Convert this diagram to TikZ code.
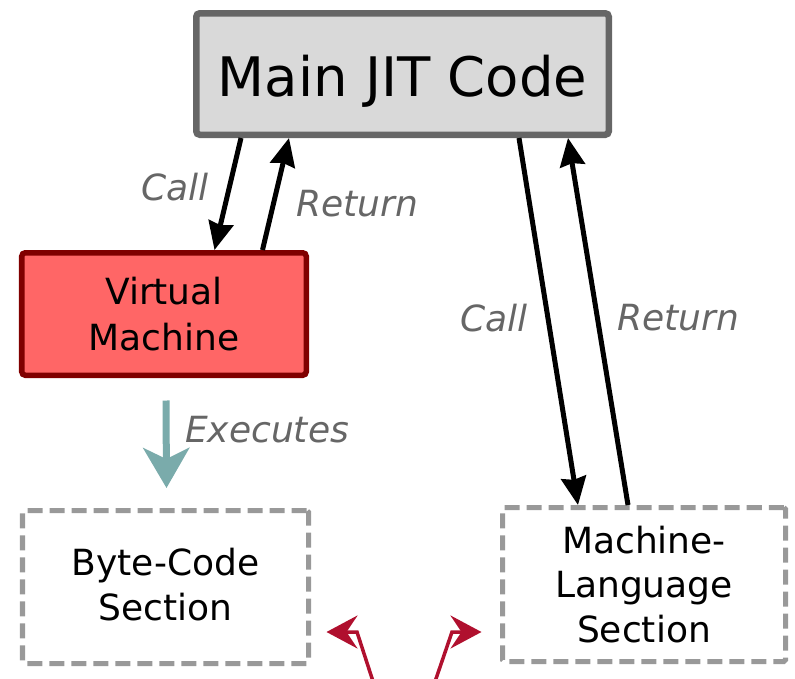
\documentclass[tikz,border=0pt]{standalone}
\usepackage{fontspec}
\setmainfont{DejaVu Sans}
\usetikzlibrary{arrows.meta}
\definecolor{boxgray}{HTML}{666666}
\definecolor{boxfill}{HTML}{D9D9D9}
\definecolor{vmred}{HTML}{800000}
\definecolor{vmfill}{HTML}{FF6666}
\definecolor{dashgray}{HTML}{999999}
\definecolor{execteal}{HTML}{7AABAB}
\definecolor{pointred}{HTML}{B0102E}
\newcommand{\lowered}[2]{\raisebox{-#1}[\height][\depth]{#2}}
\tikzset{mainblock/.style = {draw=boxgray, fill=boxfill, line width=0.13cm, rounded corners=2pt, minimum width=8.25cm, minimum height=2.43cm, font=\fontsize{31}{36}\selectfont},
         vmblock/.style = {draw=vmred, fill=vmfill, line width=0.11cm, rounded corners=2pt, minimum width=5.69cm, minimum height=2.45cm, font=\fontsize{20.5}{26}\selectfont},
         section/.style = {draw=dashgray, line width=0.1cm, dash pattern=on 0.3cm off 0.14cm, rounded corners=1pt, font=\fontsize{20.5}{25.5}\selectfont},
         flow/.style = {line width=0.1cm, -{Stealth[length=0.56cm,width=0.5cm,inset=0.05cm]}},
         pointer/.style = {pointred, line width=0.07cm, -{Stealth[length=0.62cm,width=0.66cm,inset=0.22cm]}},
         lbl/.style = {text=boxgray, font=\fontsize{20.5}{25}\selectfont\itshape}}

\begin{document}
\begin{tikzpicture}
        \useasboundingbox (0,0) rectangle (15.9,-13.56);
        \node[mainblock](main)at(8.05,-1.48){\lowered{0.14cm}{Main JIT Code}};
        \node[vmblock](vm)at(3.28,-6.28){\lowered{0.09cm}{\begin{tabular}{@{}c@{}}Virtual\\Machine\end{tabular}}};
        \node[section, minimum width=5.72cm, minimum height=3.06cm](bytecode)at(3.31,-11.74){\lowered{0.04cm}{\begin{tabular}{@{}c@{}}Byte-Code\\Section\end{tabular}}};
        \node[section, minimum width=5.66cm, minimum height=3.08cm](machine)at(12.88,-11.69){\lowered{0.09cm}{\begin{tabular}{@{}c@{}}Machine-\\Language\\Section\end{tabular}}};

        \draw[flow]([xshift=0.96cm]main.south west)--([xshift=-1.89cm]vm.north east);
        \draw[flow]([xshift=-0.93cm]vm.north east)--([xshift=1.92cm]main.south west);
        \draw[flow]([xshift=-1.86cm]main.south east)--([xshift=-1.32cm]machine.north);
        \draw[flow]([xshift=-0.32cm]machine.north)--([xshift=-0.88cm]main.south east);

        \draw[execteal, line width=0.14cm, -{Stealth[length=0.8cm,width=0.92cm,inset=0.22cm]}]([shift={(0.04,-0.45)}]vm.south)--([shift={(0.02,0.4)}]bytecode.north);

        \coordinate(left foot)at(7.5,-13.75);
        \coordinate(right foot)at(8.66,-13.75);
        \draw[pointer](left foot)--(7.14,-12.64)--([shift={(0.31,-0.9)}]bytecode.east);
        \draw[pointer](right foot)--(9.04,-12.64)--([shift={(-0.37,-0.95)}]machine.west);

        \node[lbl]at(3.5,-3.74){Call};
        \node[lbl]at(7.14,-4.08){Return};
        \node[lbl]at(9.88,-6.36){Call};
        \node[lbl]at(13.56,-6.36){Return};
        \node[lbl]at(5.34,-8.6){Executes};
    \end{tikzpicture}
\end{document}
